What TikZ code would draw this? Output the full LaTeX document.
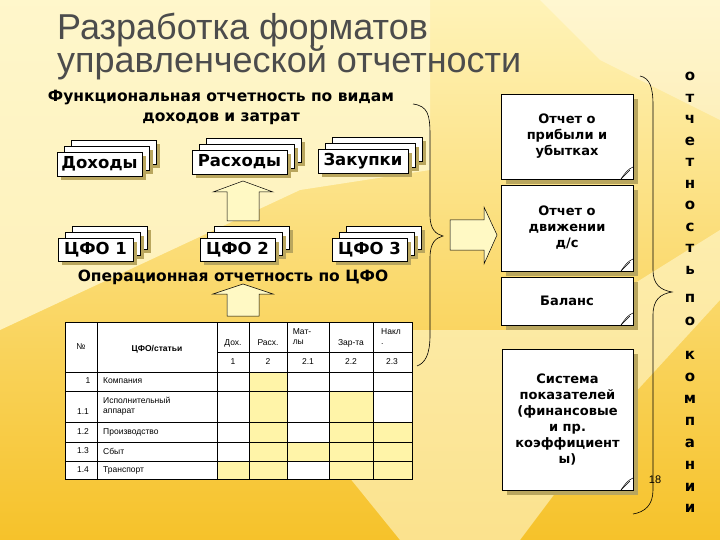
\documentclass[tikz,border=0pt]{standalone}
\usepackage{fontspec}
\setmainfont{DejaVu Sans}
\newfontfamily\titlefont{Liberation Sans}
\newfontfamily\tabfont{Liberation Sans}
\definecolor{bgtop}{HTML}{FFF3B8}
\definecolor{bgbot}{HTML}{F6C22A}
\definecolor{lite}{HTML}{FFF8D0}
\definecolor{shad}{HTML}{B9A65E}
\definecolor{cellY}{HTML}{FFF4A8}
\definecolor{arrowY}{HTML}{FFF9C4}
\begin{document}
\begin{tikzpicture}[x=1pt,y=-1pt,
  card/.style={draw=black,line width=0.6pt,fill=white,inner sep=0pt},
  shd/.style={fill=shad},
  lbl/.style={font=\bfseries\fontsize{16.5}{19}\selectfont,inner sep=0pt},
  rlbl/.style={font=\bfseries\fontsize{13}{16}\selectfont,align=center,inner sep=0pt},
  tab/.style={font=\tabfont\fontsize{8.5}{10}\selectfont,inner sep=0pt},
  blk/.style={draw=black,line width=0.5pt,fill=arrowY},
  brc/.style={draw=black,line width=0.6pt},
  vl/.style={font=\bfseries\fontsize{15}{15}\selectfont,inner sep=0pt}]
\useasboundingbox (0,0) rectangle (720,540);
% background
\shade[top color=bgtop,bottom color=bgbot] (0,0) rectangle (720,540);
\fill[lite,opacity=0.8] (0,0) -- (430,0) -- (430,170) -- (300,190) -- (0,330) -- cycle;
\fill[lite,opacity=0.6] (230,330) -- (430,330) -- (560,330) -- (720,230) -- (720,300) -- (610,420) -- (520,540) -- (400,540) -- cycle;
\fill[white,opacity=0.35] (540,0) -- (720,0) -- (720,120) -- (600,60) -- cycle;
% title
\node[anchor=west,font=\titlefont\fontsize{36}{38}\selectfont,text=black!70,inner sep=0pt] (t1) at (57,30) {Разработка форматов};
\node[anchor=west,font=\titlefont\fontsize{36}{38}\selectfont,text=black!70,inner sep=0pt] (t2) at (57,63) {управленческой отчетности};
% headings
\node[font=\bfseries\fontsize{15.5}{20}\selectfont,align=center,inner sep=0pt] (h1) at (221,107) {Функциональная отчетность по видам\\доходов и затрат};
\node[font=\bfseries\fontsize{15.5}{17}\selectfont,inner sep=0pt] (h2) at (233,277) {Операционная отчетность по ЦФО};
% stacked cards
\newcommand\stackcard[6]{% name x1 y1 x2 y2 text
  \foreach \k in {2,1}{%
    \fill[shd] ({#2+7*\k+4},{#3-6*\k+4}) rectangle ({#4+7*\k+4},{#5-6*\k+4});
    \draw[card] ({#2+7*\k},{#3-6*\k}) rectangle ({#4+7*\k},{#5-6*\k});}
  \fill[shd] (#2+4,#3+4) rectangle (#4+4,#5+4);
  \node[card,minimum width={#4-#2},minimum height={#5-#3},lbl] (#1) at ({(#2+#4)/2},{(#3+#5)/2}) {#6};}
\stackcard{doh}{57}{152}{142}{176}{Доходы}
\stackcard{ras}{192}{150}{287}{174}{Расходы}
\stackcard{zak}{318}{149}{408}{173}{Закупки}
\stackcard{c1}{58}{238}{133}{261}{ЦФО 1}
\stackcard{c2}{200}{238}{275}{261}{ЦФО 2}
\stackcard{c3}{332}{238}{407}{261}{ЦФО 3}
% up arrows
\draw[blk] (227,221) -- (227,192) -- (213,192) -- (243,181) -- (273,192) -- (259,192) -- (259,221) -- cycle;
\draw[blk] (227,316) -- (227,294) -- (213,294) -- (243,284) -- (273,294) -- (259,294) -- (259,316) -- cycle;
% right arrow
\draw[blk] (450,220) -- (484,220) -- (484,207) -- (497,235) -- (484,264) -- (484,250) -- (450,250) -- cycle;
% table
\fill[white] (65,322) rectangle (412,479);
\foreach \xa/\xb/\ya/\yb in {249/287/372/391, 249/287/391/422, 329/373/391/422, 249/287/422/442, 329/373/422/442, 373/412/422/442,
 249/412/442/461, 217/287/461/479, 329/412/461/479}
  \fill[cellY] (\xa,\ya) rectangle (\xb,\yb);
\draw[line width=0.6pt] (65,322) rectangle (412,479);
\foreach \x in {97,217,249,287,329,373} \draw[line width=0.6pt] (\x,322) -- (\x,479);
\draw[line width=0.6pt] (217,352) -- (412,352);
\foreach \y in {372,391,422,442,461} \draw[line width=0.6pt] (65,\y) -- (412,\y);
\node[tab] (n0) at (81,347) {№};
\node[tab,font=\tabfont\bfseries\fontsize{8.5}{10}\selectfont] (n1) at (157,349) {ЦФО/статьи};
\node[tab] (a1) at (233,343) {Дох.};
\node[tab] (a2) at (268,343) {Расх.};
\node[tab,align=left] (a3) at (302,337) {Мат-\\лы};
\node[tab] (a4) at (351,343) {Зар-та};
\node[tab,align=left] (a5) at (391,337) {Накл\\.};
\node[tab] (b1) at (233,362) {1};
\node[tab] (b2) at (268,362) {2};
\node[tab] (b3) at (308,362) {2.1};
\node[tab] (b4) at (351,362) {2.2};
\node[tab] (b5) at (392,362) {2.3};
\node[tab] (r1) at (88,381) {1};
\node[tab] (r2) at (83,412) {1.1};
\node[tab] (r3) at (83,432) {1.2};
\node[tab] (r4) at (83,451) {1.3};
\node[tab] (r5) at (83,470) {1.4};
\node[tab,anchor=west] (s1) at (103,381) {Компания};
\node[tab,anchor=west,align=left] (s2) at (103,406) {Исполнительный\\аппарат};
\node[tab,anchor=west] (s3) at (103,432) {Производство};
\node[tab,anchor=west] (s4) at (103,451) {Сбыт};
\node[tab,anchor=west] (s5) at (103,470) {Транспорт};
% left brace
\draw[brc] (413,104) .. controls (428,106) and (430,115) .. (430,135) -- (430,215) .. controls (430,230) and (436,234) .. (443,236)
  .. controls (436,238) and (430,242) .. (430,258) -- (430,335) .. controls (430,355) and (425,363) .. (417,366);
% right boxes
\newcommand\notecard[6]{% name x1 y1 x2 y2 text
  \fill[shd] (#2+5,#3+5) rectangle (#4+5,#5+5);
  \node[card,minimum width={#4-#2},minimum height={#5-#3},rlbl] (#1) at ({(#2+#4)/2},{(#3+#5)/2}) {#6};
  \draw[line width=0.5pt] (#4-12,#5) .. controls (#4-8,#5-6) and (#4-5,#5-10) .. (#4,#5-12);
  \draw[line width=0.5pt] (#4-12,#5) -- (#4-3,#5-9);}
\notecard{p1}{501}{94}{633}{179}{Отчет о\\прибыли и\\убытках}
\notecard{p2}{501}{185}{633}{271}{Отчет о\\движении\\д/с}
\notecard{p3}{501}{277}{633}{325}{Баланс}
\notecard{p4}{502}{349}{633}{490}{Система\\показателей\\(финансовые\\и пр.\\коэффициент\\ы)}
% right brace
\draw[brc] (640,76) .. controls (650,78) and (653,88) .. (653,105) -- (653,270) .. controls (653,284) and (660,290) .. (672,292)
  .. controls (660,294) and (653,300) .. (653,315) -- (653,490) .. controls (653,505) and (645,512) .. (633,514);
\node[font=\titlefont\fontsize{11}{12}\selectfont,inner sep=0pt] (pg) at (655,480) {18};
% vertical text
\foreach \ch/\y [count=\i] in {о/76,т/98,ч/119,е/141,т/162,н/184,о/205,с/227,т/248,ь/270,п/298,о/321,к/355,о/377,м/399,п/421,а/443,н/465,и/487,и/508}
  \node[vl] (v\i) at (690,\y) {\ch};
\end{tikzpicture}
\end{document}
